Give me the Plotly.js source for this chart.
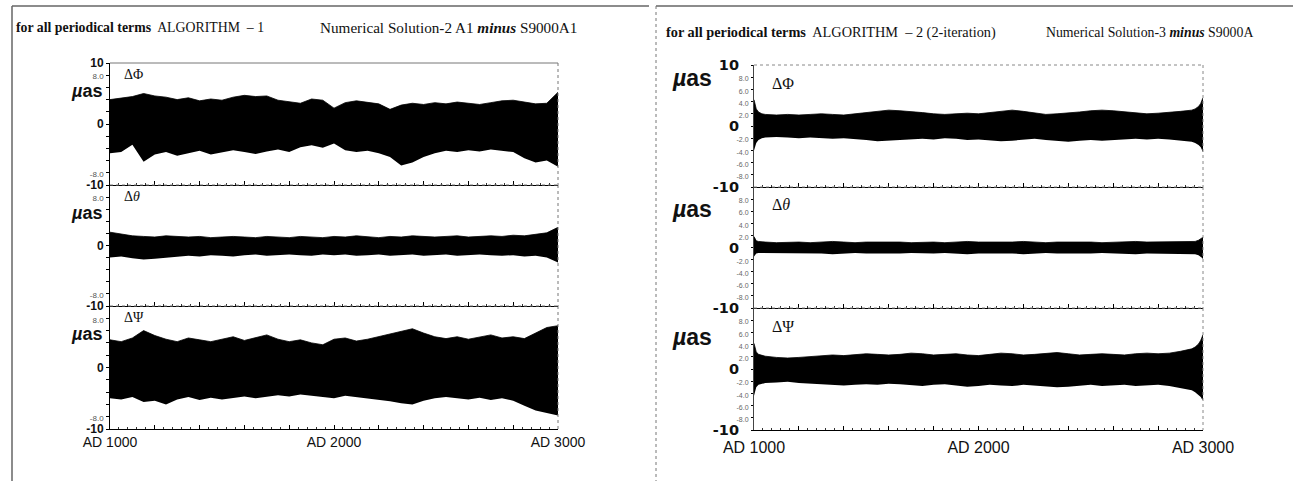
<!DOCTYPE html>
<html><head><meta charset="utf-8">
<script src="https://cdn.plot.ly/plotly-3.0.1.min.js"></script>
<style>html,body{margin:0;padding:0;background:#fff}#c{width:1293px;height:481px}</style>
</head><body><div id="c"></div>
<script>
// ---------- data (values in micro-arcseconds) ----------
const yearsL = [1000,1050,1100,1150,1200,1250,1300,1350,1400,1450,1500,1550,1600,1650,1700,1750,1800,1850,1900,1950,2000,2050,2100,2150,2200,2250,2300,2350,2400,2450,2500,2550,2600,2650,2700,2750,2800,2850,2900,2950,3000];

const leftPhiUpper = [4.0,4.3,4.5,5.0,4.6,4.4,4.0,4.3,3.8,4.1,3.9,4.4,4.7,4.5,4.6,3.9,3.6,3.4,4.1,3.9,2.6,3.5,3.8,3.6,3.3,2.4,3.1,3.4,3.2,3.5,3.3,3.6,3.4,3.2,3.5,3.8,3.9,3.6,3.3,3.4,5.2];
const leftPhiLower = [-4.8,-4.6,-3.4,-6.2,-5.0,-4.6,-5.2,-4.8,-4.4,-5.0,-4.7,-4.3,-4.6,-4.9,-4.5,-4.2,-4.6,-3.8,-3.5,-3.9,-3.2,-4.3,-4.6,-4.4,-4.8,-5.4,-6.8,-6.3,-5.4,-4.8,-4.4,-4.6,-4.3,-4.5,-4.2,-4.4,-4.6,-5.6,-6.3,-6.0,-7.0];

const leftThetaUpper = [2.2,1.9,1.6,1.5,1.4,1.6,1.5,1.4,1.5,1.3,1.4,1.5,1.4,1.3,1.5,1.4,1.3,1.5,1.4,1.3,1.5,1.4,1.6,1.4,1.3,1.5,1.4,1.6,1.5,1.4,1.5,1.6,1.4,1.5,1.6,1.5,1.7,1.6,1.8,2.1,3.0];
const leftThetaLower = [-2.0,-1.8,-2.1,-2.3,-2.2,-2.0,-1.8,-1.7,-1.8,-1.6,-1.7,-1.8,-1.6,-1.5,-1.7,-1.6,-1.5,-1.6,-1.7,-1.5,-1.6,-1.5,-1.7,-1.6,-1.5,-1.7,-1.6,-1.5,-1.7,-1.6,-1.5,-1.7,-1.6,-1.5,-1.6,-1.7,-1.6,-1.8,-1.7,-2.0,-2.8];

const leftPsiUpper = [4.5,4.2,4.8,6.0,5.2,4.6,4.2,4.8,4.5,4.2,4.6,5.0,4.4,4.8,5.3,4.6,4.2,4.5,4.0,3.7,4.6,4.8,4.3,4.6,5.0,5.5,5.8,6.3,5.6,5.0,4.7,5.0,4.6,4.9,5.3,4.8,5.0,4.7,5.6,6.5,6.8];
const leftPsiLower = [-5.0,-5.2,-4.8,-5.6,-5.4,-6.0,-5.2,-4.8,-5.3,-4.9,-5.2,-5.0,-4.7,-5.0,-4.8,-4.5,-4.7,-4.4,-4.6,-4.8,-5.0,-4.6,-4.8,-5.0,-5.2,-5.5,-5.8,-6.0,-5.4,-5.0,-4.8,-5.0,-5.2,-4.9,-5.3,-5.0,-5.4,-6.2,-7.0,-7.4,-7.8];

const yearsR = [1000,1005,1010,1020,1035,1050,1100,1150,1200,1250,1300,1350,1400,1450,1500,1550,1600,1650,1700,1750,1800,1850,1900,1950,2000,2050,2100,2150,2200,2250,2300,2350,2400,2450,2500,2550,2600,2650,2700,2750,2800,2850,2900,2950,2965,2980,2990,2995,3000];

const rightPhiUpper = [4.3,3.5,2.8,2.3,2.0,1.9,1.8,1.9,1.8,1.9,2.0,1.9,1.8,2.0,2.2,2.4,2.6,2.5,2.4,2.2,2.0,1.9,2.0,2.1,2.0,2.2,2.5,2.6,2.4,2.1,1.9,2.0,2.1,2.3,2.5,2.6,2.5,2.3,2.1,2.0,2.1,2.2,2.4,2.6,2.8,3.2,3.7,4.2,4.6];
const rightPhiLower = [-4.0,-3.4,-2.8,-2.3,-2.0,-1.9,-1.8,-1.9,-2.0,-1.9,-2.0,-2.1,-2.0,-2.1,-2.3,-2.5,-2.4,-2.3,-2.2,-2.1,-2.2,-2.0,-2.1,-2.3,-2.2,-2.3,-2.5,-2.4,-2.2,-2.1,-2.3,-2.5,-2.6,-2.4,-2.3,-2.4,-2.3,-2.2,-2.1,-2.2,-2.1,-2.2,-2.4,-2.6,-2.8,-3.1,-3.5,-3.9,-4.3];

const rightThetaUpper = [1.8,1.4,1.1,1.0,0.9,0.9,0.8,0.9,0.9,0.8,0.9,1.0,0.9,0.8,0.9,0.9,1.0,0.9,0.8,0.9,0.9,0.8,0.9,1.0,0.9,0.9,0.8,0.9,1.0,0.9,0.8,0.9,0.9,1.0,0.9,0.8,0.9,0.9,1.0,0.9,0.9,0.9,1.0,1.0,1.0,1.2,1.4,1.6,1.7];
const rightThetaLower = [-1.5,-1.2,-1.0,-0.9,-0.9,-1.0,-0.9,-1.0,-1.0,-0.9,-1.0,-1.1,-1.0,-0.9,-1.0,-1.0,-1.1,-1.0,-0.9,-1.0,-1.0,-0.9,-1.0,-1.1,-1.0,-1.0,-0.9,-1.0,-1.1,-1.0,-0.9,-1.0,-1.0,-1.1,-1.0,-0.9,-1.0,-1.0,-1.1,-1.0,-1.0,-1.0,-1.1,-1.1,-1.1,-1.3,-1.5,-1.7,-1.9];

const rightPsiUpper = [4.2,3.4,2.8,2.4,2.2,2.1,1.9,1.8,1.9,2.0,2.2,2.3,2.2,2.4,2.5,2.4,2.3,2.4,2.6,2.5,2.3,2.4,2.5,2.3,2.2,2.4,2.6,2.5,2.3,2.4,2.6,2.7,2.5,2.3,2.4,2.5,2.4,2.3,2.5,2.6,2.5,2.6,2.9,3.3,3.6,4.1,4.7,5.2,5.6];
const rightPsiLower = [-4.4,-3.6,-3.0,-2.6,-2.4,-2.3,-2.2,-2.1,-2.3,-2.4,-2.5,-2.6,-2.7,-2.6,-2.5,-2.6,-2.4,-2.5,-2.7,-2.8,-2.6,-2.5,-2.7,-2.9,-2.8,-2.6,-2.7,-2.8,-2.6,-2.7,-2.8,-3.0,-2.9,-2.7,-2.6,-2.8,-2.7,-2.6,-2.8,-2.7,-2.6,-2.8,-3.1,-3.5,-3.8,-4.2,-4.6,-4.9,-5.1];

const yTickVals = [-10,-8,-6,-4,-2,0,2,4,6,8,10];
const yBigVals = [-10,0,10];
const xMajorVals = [1000,1200,1400,1600,1800,2000,2200,2400,2600,2800,3000];
const xLabels = ['AD 1000','','','','','AD 2000','','','','','AD 3000'];
const panelNames = ['ΔΦ','Δ<i>θ</i>','ΔΨ'];
const unitLabel = '<i>µ</i>as';
const titleLeftA = '<b>for all periodical terms</b>  ALGORITHM  – 1';
const titleLeftB = 'Numerical Solution-2 A1 <b><i>minus</i></b> S9000A1';
const titleRightA = '<b>for all periodical terms</b>  ALGORITHM  – 2 (2-iteration)';
const titleRightB = 'Numerical Solution-3 <b><i>minus</i></b> S9000A';

// ---------- layout helpers ----------
const W = 1293, H = 481;
const px = x => x / W;
const py = y => 1 - y / H;

const leftX = [110, 558], rightX = [754, 1203];
const leftY = [[63,185],[185,306],[306,429]];
const rightY = [[65,187],[187,308],[308,430]];

function smallL(s){ return '<span style="font-size:8px;color:#555">'+s+'</span>'; }
function smallR(s){ return '<span style="font-size:7px;color:#666">'+s+'</span>'; }

function leftTicks(top){
  return ['<b>-10</b>', smallL('-8.0'), '', '', '', '<b>0</b>', '', '', '', smallL('8.0'), top ? '<b>10</b>' : ''];
}
function rightTicks(){
  return ['', smallR('-8.0'), smallR('-6.0'), smallR('-4.0'), smallR('-2.0'), '',
          smallR('2.0'), smallR('4.0'), smallR('6.0'), smallR('8.0'), ''];
}

const series = [
  [leftPhiLower, leftPhiUpper, yearsL],
  [leftThetaLower, leftThetaUpper, yearsL],
  [leftPsiLower, leftPsiUpper, yearsL],
  [rightPhiLower, rightPhiUpper, yearsR],
  [rightThetaLower, rightThetaUpper, yearsR],
  [rightPsiLower, rightPsiUpper, yearsR]
];

const traces = [];
const layout = {
  width: W, height: H, margin: {l:0, r:0, t:0, b:0},
  paper_bgcolor: '#fff', plot_bgcolor: '#fff', showlegend: false,
  annotations: [], shapes: []
};

series.forEach((s, i) => {
  const n = i + 1;
  const xa = 'x' + (n === 1 ? '' : n), ya = 'y' + (n === 1 ? '' : n);
  traces.push({x: s[2], y: s[0], xaxis: xa, yaxis: ya, mode: 'lines', line: {width: 0, color: '#000'}, hoverinfo: 'skip'});
  traces.push({x: s[2], y: s[1], xaxis: xa, yaxis: ya, mode: 'lines', fill: 'tonexty', fillcolor: '#000', line: {width: 0.8, color: '#000'}, hoverinfo: 'skip'});

  const isLeft = i < 3, row = i % 3;
  const xd = isLeft ? leftX : rightX;
  const yd = (isLeft ? leftY : rightY)[row];
  const bottom = row === 2;
  layout['xaxis' + (n === 1 ? '' : n)] = {
    domain: [px(xd[0]), px(xd[1])], anchor: ya, range: [1000, 3000],
    tickmode: 'array', tickvals: xMajorVals, ticktext: bottom ? xLabels : xMajorVals.map(() => ''),
    ticks: 'inside', ticklen: 4, tickwidth: 1, tickcolor: '#000',
    minor: {tickmode: 'linear', tick0: 1000, dtick: 40, ticks: 'inside', ticklen: 2, tickcolor: '#333'},
    showline: true, linecolor: '#000', linewidth: 1, mirror: false,
    showgrid: false, zeroline: false, fixedrange: true,
    ticklabelstandoff: isLeft ? 0 : 3,
    tickfont: {family: 'Liberation Sans, Arial, sans-serif', size: isLeft ? 14 : 16, color: '#111'}
  };
  layout['yaxis' + (n === 1 ? '' : n)] = {
    domain: [py(yd[1]), py(yd[0])], anchor: xa, range: [-10, 10],
    tickmode: 'array', tickvals: yTickVals, ticktext: isLeft ? leftTicks(row === 0) : rightTicks(),
    ticks: 'outside', ticklen: isLeft ? 3 : 2, tickcolor: '#000',
    showline: true, linecolor: isLeft ? '#000' : '#444', linewidth: 1,
    showgrid: false, zeroline: false, fixedrange: true,
    tickfont: {family: 'Liberation Sans, Arial, sans-serif', size: 12, color: '#111'}
  };
  if (!isLeft) {
    // large labels for -10, 0, 10 sit further left of the axis
    const k = n + 3;
    layout['yaxis' + k] = {
      overlaying: ya, anchor: xa, side: 'left', range: [-10, 10],
      tickmode: 'array', tickvals: yBigVals, ticktext: ['-10', '0', row === 0 ? '10' : ''],
      ticks: '', showline: false, showgrid: false, zeroline: false, fixedrange: true,
      ticklabelstandoff: 14,
      tickfont: {family: 'DejaVu Sans, sans-serif', size: 14.5, weight: 'bold', color: '#111'}
    };
    traces.push({x: [1000], y: [0], xaxis: xa, yaxis: 'y' + k, mode: 'markers', marker: {size: 0.1, opacity: 0}, hoverinfo: 'skip'});
  }

  // panel top & right borders
  const bc = isLeft ? '#777' : '#888';
  layout.shapes.push({type: 'line', xref: 'paper', yref: 'paper', x0: px(xd[0]), x1: px(xd[1]), y0: py(yd[0]), y1: py(yd[0]),
    line: {color: bc, width: 1, dash: (isLeft && row === 0) ? 'solid' : 'dot'}});
  layout.shapes.push({type: 'line', xref: 'paper', yref: 'paper', x0: px(xd[1]), x1: px(xd[1]), y0: py(yd[0]), y1: py(yd[1]),
    line: {color: bc, width: 1, dash: 'dot'}});

  // panel label
  layout.annotations.push({xref: 'paper', yref: 'paper', x: px(xd[0] + (isLeft ? 12 : 16)), y: py(yd[0] + (isLeft ? 11 : 18)),
    xanchor: 'left', yanchor: 'middle', showarrow: false, text: panelNames[row],
    font: {family: 'Liberation Serif, Times New Roman, serif', size: isLeft ? 14 : 16, color: '#111'}});
  // unit label
  layout.annotations.push({xref: 'paper', yref: 'paper', x: px(isLeft ? 104 : 714), y: py(yd[0] + (isLeft ? 28 : [13, 22, 29][row])),
    xanchor: 'right', yanchor: 'middle', showarrow: false, text: unitLabel,
    font: {family: 'Liberation Sans, Arial, sans-serif', size: isLeft ? 18 : 23, color: '#111', weight: 'bold'}});
});

// titles
const serif = 'Liberation Serif, Times New Roman, serif';
layout.annotations.push({xref:'paper', yref:'paper', x: px(14), y: py(27), xanchor:'left', yanchor:'middle', showarrow:false, text: titleLeftA, font: {family: serif, size: 13.8, color: '#111'}});
layout.annotations.push({xref:'paper', yref:'paper', x: px(318), y: py(27), xanchor:'left', yanchor:'middle', showarrow:false, text: titleLeftB, font: {family: serif, size: 15.2, color: '#111'}});
layout.annotations.push({xref:'paper', yref:'paper', x: px(664), y: py(33), xanchor:'left', yanchor:'middle', showarrow:false, text: titleRightA, font: {family: serif, size: 14.3, color: '#111'}});
layout.annotations.push({xref:'paper', yref:'paper', x: px(1044), y: py(33), xanchor:'left', yanchor:'middle', showarrow:false, text: titleRightB, font: {family: serif, size: 13.8, color: '#111'}});

// figure frames
layout.shapes.push({type:'line', xref:'paper', yref:'paper', x0: px(12), x1: px(649), y0: py(6), y1: py(6), line:{color:'#666', width:1.5}});
layout.shapes.push({type:'line', xref:'paper', yref:'paper', x0: px(12), x1: px(12), y0: py(6), y1: 0, line:{color:'#666', width:1.5}});
layout.shapes.push({type:'line', xref:'paper', yref:'paper', x0: px(656), x1: 1, y0: py(6), y1: py(6), line:{color:'#666', width:1.5}});
layout.shapes.push({type:'line', xref:'paper', yref:'paper', x0: px(656), x1: px(656), y0: py(6), y1: 0, line:{color:'#777', width:1, dash:'dot'}});

Plotly.newPlot('c', traces, layout, {staticPlot: true, displayModeBar: false});
</script></body></html>
